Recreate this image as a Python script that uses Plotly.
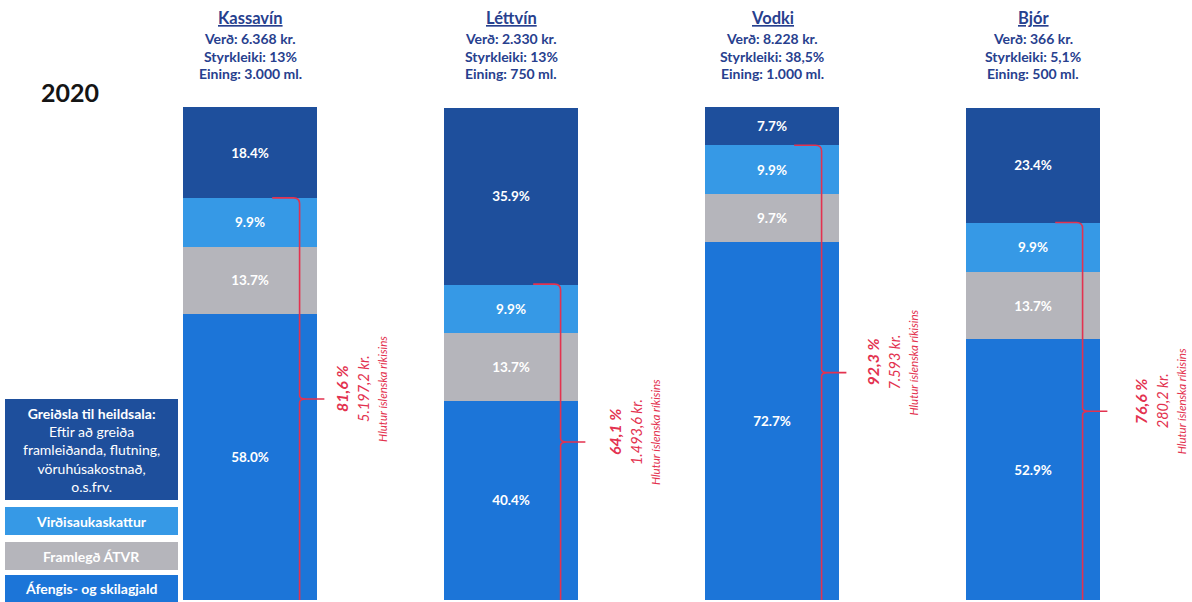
import plotly.graph_objects as go

# ---------------- data ----------------
categories = ["Kassavín", "Léttvín", "Vodki", "Bjór"]
price = ["6.368 kr.", "2.330 kr.", "8.228 kr.", "366 kr."]
strength = ["13%", "13%", "38,5%", "5,1%"]
unit = ["3.000 ml.", "750 ml.", "1.000 ml.", "500 ml."]

alcohol_fee = [58.0, 40.4, 72.7, 52.9]      # Áfengis- og skilagjald
atvr_margin = [13.7, 13.7, 9.7, 13.7]       # Framlegð ÁTVR
vat = [9.9, 9.9, 9.9, 9.9]                  # Virðisaukaskattur
wholesaler = [18.4, 35.9, 7.7, 23.4]        # Greiðsla til heildsala

state_share_label = ["81,6 %", "64,1 %", "92,3 %", "76,6 %"]
state_share_kr = ["5.197,2 kr.", "1.493,6 kr.", "7.593 kr.", "280,2 kr."]
year_label = "2020"

# ---------------- style ----------------
W, H = 1192, 602
TOP, BOT = 107, 2
C_DARK = "#1e4f9c"
C_LIGHT = "#3699e6"
C_GRAY = "#b5b5bb"
C_BLUE = "#1c75d8"
C_RED = "#e3324f"
C_HEAD = "#27408e"
FONT = "Lato"
text_shift = [92, 103, 101, 107]   # pixel offset of red texts from bar centre

x = list(range(len(categories)))

def py(p):  # pixel y -> paper y
    return (H - BOT - p) / (H - TOP - BOT)

def px(p):
    return p / W

fig = go.Figure()
series = [
    ("Áfengis- og skilagjald", alcohol_fee, C_BLUE),
    ("Framlegð ÁTVR", atvr_margin, C_GRAY),
    ("Virðisaukaskattur", vat, C_LIGHT),
    ("Greiðsla til heildsala", wholesaler, C_DARK),
]
for name, vals, col in series:
    fig.add_trace(go.Bar(
        x=x, y=vals, name=name, marker=dict(color=col, line=dict(width=0)),
        texttemplate="%{y:.1f}%", textposition="inside", insidetextanchor="middle",
        constraintext="none",
        textfont=dict(family=FONT, size=13.5, color="white", weight="bold"),
        cliponaxis=False, showlegend=False,
    ))

annotations = []
shapes = []

# headers
for i, c in enumerate(categories):
    annotations.append(dict(x=i, xref="x", y=py(18), yref="paper",
        xanchor="center", yanchor="middle",
        text=f"<u><b>{c}</b></u>", showarrow=False,
        font=dict(family=FONT, size=16.5, color=C_HEAD)))
    for yy, t in [(38, f"Verð: {price[i]}"), (56, f"Styrkleiki: {strength[i]}"), (73, f"Eining: {unit[i]}")]:
        annotations.append(dict(x=i, xref="x", y=py(yy), yref="paper",
            xanchor="center", yanchor="middle",
            text=f"<b>{t}</b>", showarrow=False,
            font=dict(family=FONT, size=14, color=C_HEAD)))

# brackets + red annotations
for i in x:
    top = 100 - wholesaler[i]
    mid = top / 2
    c = i
    xs, xv, xp = c + 0.085, c + 0.19, c + 0.285
    rx, ry = 0.023, 1.2
    path = (f"M {xs},{top} L {xv-rx},{top} Q {xv},{top} {xv},{top-ry} "
            f"L {xv},{mid+0.7} Q {xv},{mid} {xv+0.025},{mid} L {xp},{mid} "
            f"M {xv+0.025},{mid} Q {xv},{mid} {xv},{mid-0.7} L {xv},0")
    shapes.append(dict(type="path", path=path, xref="x", yref="y",
                       line=dict(color=C_RED, width=1.6)))
    s = text_shift[i]
    for off, txt, fs in [(s, f"<b><i>{state_share_label[i]}</i></b>", 16),
                         (s + 22, f"<i>{state_share_kr[i]}</i>", 14.5),
                         (s + 41, "<i>Hlutur íslenska ríkisins</i>", 11.5)]:
        annotations.append(dict(x=i, xref="x", xshift=off, y=mid, yref="y", yshift=10,
            xanchor="center", yanchor="middle",
            text=txt, textangle=-90, showarrow=False,
            font=dict(family=FONT, size=fs, color=C_RED)))

# year
annotations.append(dict(x=px(70), xref="paper", y=py(92), yref="paper",
    xanchor="center", yanchor="middle",
    text=f"<b>{year_label}</b>", showarrow=False,
    font=dict(family=FONT, size=25, color="#151515")))

# legend boxes
boxes = [
    (399, 500, C_DARK, ["<b>Greiðsla til heildsala:</b>", "Eftir að greiða",
                        "framleiðanda, flutning,", "vöruhúsakostnað,", "o.s.frv."]),
    (507, 535, C_LIGHT, ["<b>Virðisaukaskattur</b>"]),
    (542, 570, C_GRAY, ["<b>Framlegð ÁTVR</b>"]),
    (575, 605, C_BLUE, ["<b>Áfengis- og skilagjald</b>"]),
]
for y0, y1, col, lines in boxes:
    shapes.append(dict(type="rect", xref="paper", yref="paper",
        x0=px(5), x1=px(178), y0=py(y1), y1=py(y0),
        fillcolor=col, line=dict(width=0), layer="above"))
    cy = (y0 + min(y1, 602)) / 2
    annotations.append(dict(x=px(91.5), xref="paper", y=py(cy),
        yref="paper", xanchor="center", yanchor="middle",
        text="<br>".join(lines), showarrow=False, align="center",
        font=dict(family=FONT, size=14, color="white")))

fig.update_layout(
    width=W, height=H, barmode="stack", bargap=0.49,
    margin=dict(l=0, r=0, t=TOP, b=BOT),
    paper_bgcolor="white", plot_bgcolor="white",
    xaxis=dict(range=[-250 / 261, (W - 250) / 261], visible=False, fixedrange=True),
    yaxis=dict(range=[0, 100.05], visible=False, fixedrange=True),
    annotations=annotations, shapes=shapes,
)
fig.write_html("out.html", config={"displayModeBar": False},
               post_script="document.body.style.margin='0';document.body.style.padding='0';document.body.style.overflow='hidden';")
